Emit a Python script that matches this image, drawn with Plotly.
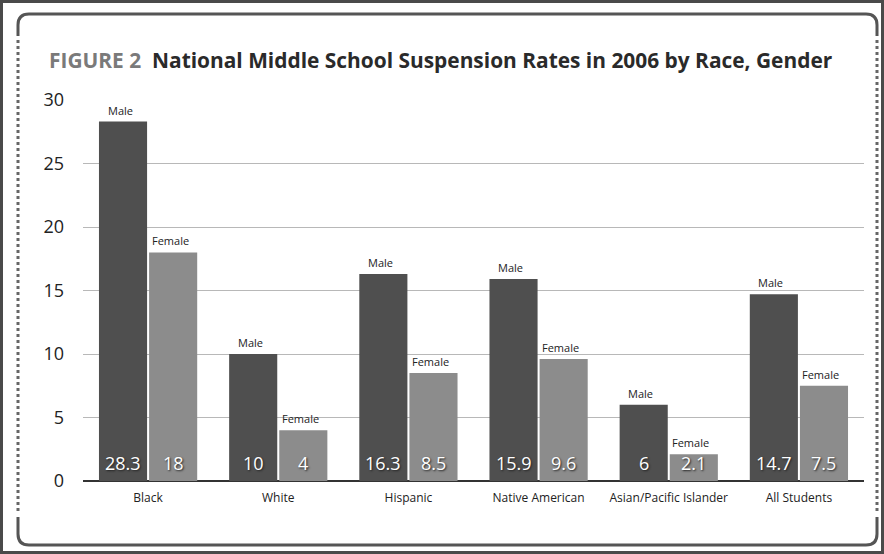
import plotly.graph_objects as go

categories = ["Black", "White", "Hispanic", "Native American", "Asian/Pacific Islander", "All Students"]
male = [28.3, 10, 16.3, 15.9, 6, 14.7]
female = [18, 4, 8.5, 9.6, 2.1, 7.5]
male_text = ["28.3", "10", "16.3", "15.9", "6", "14.7"]
female_text = ["18", "4", "8.5", "9.6", "2.1", "7.5"]
y_ticks = [0, 5, 10, 15, 20, 25, 30]

W, H = 884, 554
L, R, T, B = 83, 20, 100, 73
PW, PH = W - L - R, H - T - B
BARGAP, GROUPGAP = 0.23, 0.04

MALE_C = "#4f4f4f"
FEMALE_C = "#8c8c8c"
FONT = "Open Sans"

fig = go.Figure()
fig.add_trace(go.Bar(x=categories, y=male, name="Male", marker=dict(color=MALE_C, line=dict(width=0)),
                     hoverinfo="skip"))
fig.add_trace(go.Bar(x=categories, y=female, name="Female", marker=dict(color=FEMALE_C, line=dict(width=0)),
                     hoverinfo="skip"))

px_per_cat = PW / len(categories)
shift = (1 - BARGAP) / 4 * px_per_cat

ann = []
for i, c in enumerate(categories):
    for val, txt, sgn, lab in [(male[i], male_text[i], -1, "Male"), (female[i], female_text[i], 1, "Female")]:
        ann.append(dict(x=c, y=0, xref="x", yref="y", text=txt, showarrow=False, yanchor="bottom",
                        xshift=sgn * shift, yshift=5, borderpad=0,
                        font=dict(family=FONT, size=18, color="white", shadow="1px 1px 2px #222")))
        ann.append(dict(x=c, y=val, xref="x", yref="y", text=lab, showarrow=False, yanchor="bottom",
                        xshift=sgn * shift - 3, yshift=3, borderpad=0,
                        font=dict(family=FONT, size=11, color="#222")))

ann.append(dict(xref="paper", yref="paper", x=(47 - L) / PW, y=(H - B - 60) / PH, xanchor="left", yanchor="middle",
                text='<b><span style="color:#7a7a7a">FIGURE 2</span>  National Middle School Suspension Rates in 2006 by Race, Gender</b>',
                showarrow=False, font=dict(family=FONT, size=20.9, color="#2a2a2a")))


def px(xp):
    return (xp - L) / PW


def py(yp):
    return (H - B - yp) / PH


shapes = []
# outer border
shapes.append(dict(type="rect", xref="paper", yref="paper", x0=px(1.5), x1=px(W - 1.5), y0=py(1.5), y1=py(H - 1.5),
                   line=dict(color="#4a4a4a", width=3), layer="above"))
fx0, fx1, fy0, fy1, r = 18, 877, 14, 545, 11
top = f"M {px(fx0)},{py(fy0 + 22)} L {px(fx0)},{py(fy0 + r)} Q {px(fx0)},{py(fy0)} {px(fx0 + r)},{py(fy0)} L {px(fx1 - r)},{py(fy0)} Q {px(fx1)},{py(fy0)} {px(fx1)},{py(fy0 + r)} L {px(fx1)},{py(fy0 + 22)}"
bot = f"M {px(fx0)},{py(fy1 - 28)} L {px(fx0)},{py(fy1 - r)} Q {px(fx0)},{py(fy1)} {px(fx0 + r)},{py(fy1)} L {px(fx1 - r)},{py(fy1)} Q {px(fx1)},{py(fy1)} {px(fx1)},{py(fy1 - r)} L {px(fx1)},{py(fy1 - 28)}"
for p in (top, bot):
    shapes.append(dict(type="path", xref="paper", yref="paper", path=p, line=dict(color="#555", width=3)))
for xx in (fx0, fx1):
    shapes.append(dict(type="line", xref="paper", yref="paper", x0=px(xx), x1=px(xx), y0=py(fy0 + 26), y1=py(fy1 - 32),
                       line=dict(color="#666", width=3, dash="dot")))

fig.update_layout(
    width=W, height=H, margin=dict(l=L, r=R, t=T, b=B),
    paper_bgcolor="white", plot_bgcolor="white",
    barmode="group", bargap=BARGAP, bargroupgap=GROUPGAP,
    showlegend=False,
    annotations=ann, shapes=shapes,
    font=dict(family=FONT, color="#222"),
    xaxis=dict(showgrid=False, ticks="", tickfont=dict(family=FONT, size=12, color="#222"),
               showline=False, zeroline=False, ticklabelstandoff=8),
    yaxis=dict(range=[0, 30], tickvals=y_ticks, showgrid=True, gridcolor="#b8b8b8", gridwidth=1,
               zeroline=True, zerolinecolor="#333", zerolinewidth=2, showline=False, ticks="",
               tickfont=dict(family=FONT, size=18, color="#222"), ticklabelstandoff=18),
)

fig.write_html("out.html")
